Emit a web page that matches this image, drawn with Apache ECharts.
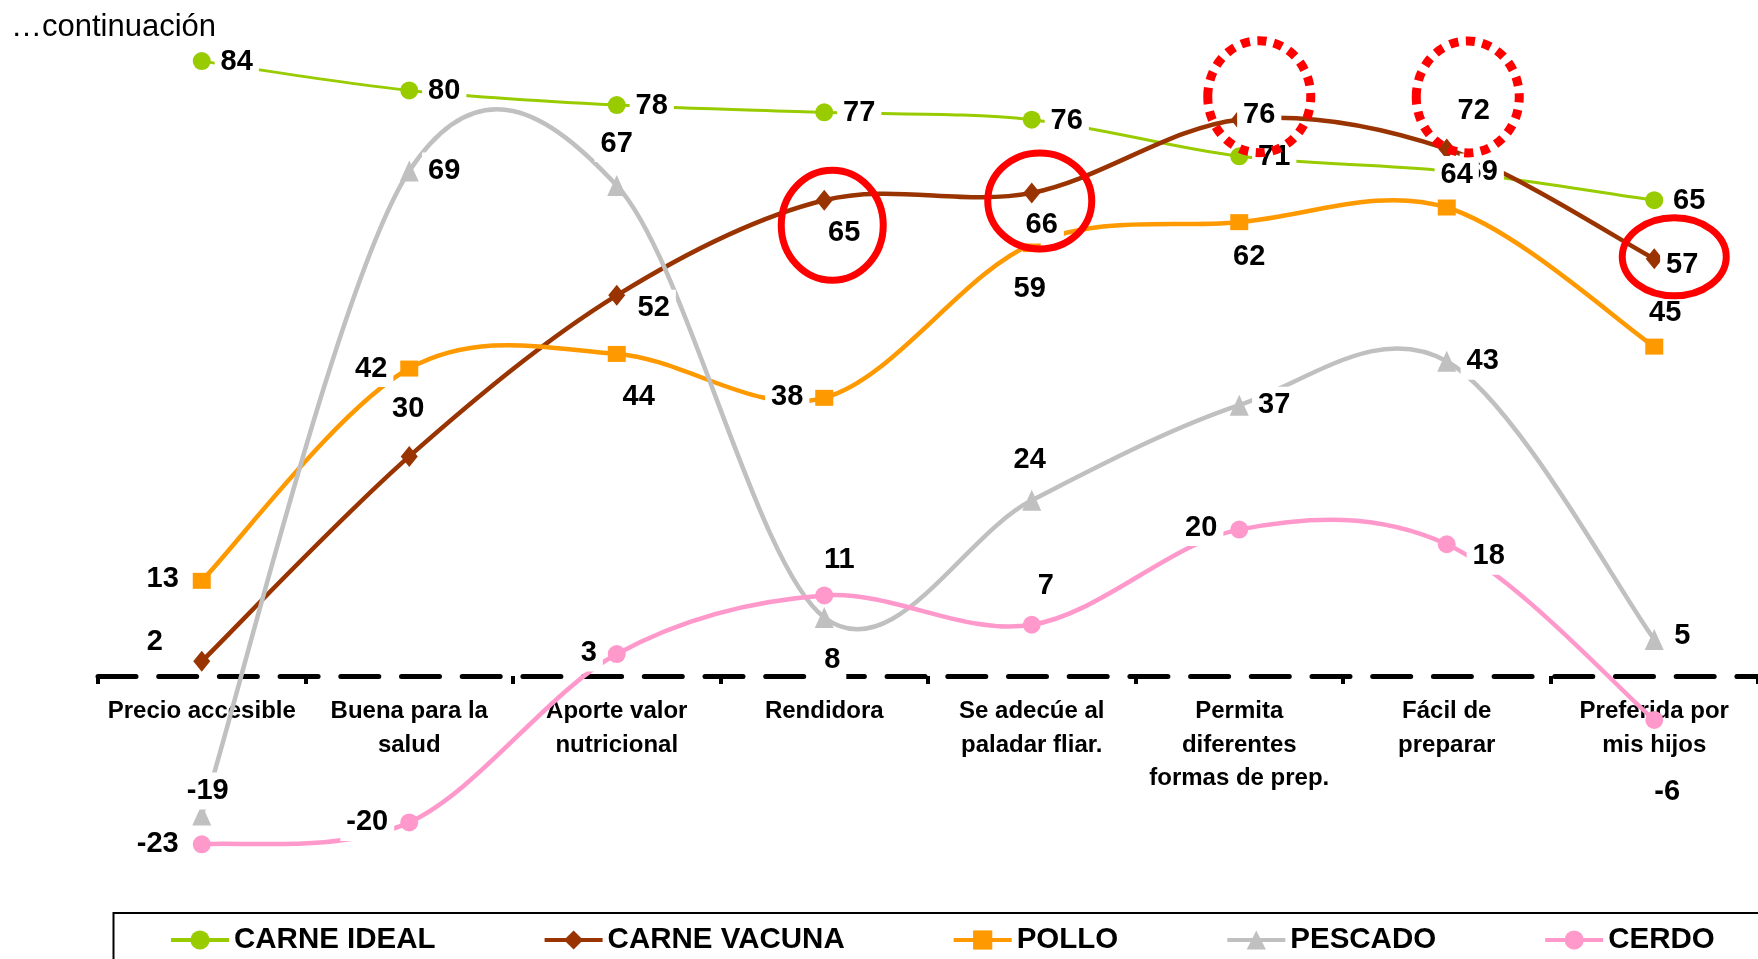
<!DOCTYPE html>
<html>
<head>
<meta charset="utf-8">
<script src="https://cdn.jsdelivr.net/npm/echarts@6/dist/echarts.min.js"></script>
<style>
html,body{margin:0;padding:0;background:#fff;}
#c{width:1758px;height:959px;}
</style>
</head>
<body>
<div id="c"></div>
<script>
// ---------- data ----------
const categories = ['Precio accesible', 'Buena para la\nsalud', 'Aporte valor\nnutricional', 'Rendidora',
  'Se adecúe al\npaladar fliar.', 'Permita\ndiferentes\nformas de prep.', 'Fácil de\npreparar', 'Preferida por\nmis hijos'];
const seriesNames = ['CARNE IDEAL', 'CARNE VACUNA', 'POLLO', 'PESCADO', 'CERDO'];
const carneIdeal  = [84, 80, 78, 77, 76, 71, 69, 65];
const carneVacuna = [2, 30, 52, 65, 66, 76, 72, 57];
const pollo       = [13, 42, 44, 38, 59, 62, 64, 45];
const pescado     = [-19, 69, 67, 8, 24, 37, 43, 5];
const cerdo       = [-23, -20, 3, 11, 7, 20, 18, -6];
const allValues = [carneIdeal, carneVacuna, pollo, pescado, cerdo];

// ---------- label placement (offset of each value label from its marker, px) ----------
const offIdeal   = [[35,1],[35,1],[35,1],[35,1],[35,1],[35,1],[35,1],[35,1]];
const offVacuna  = [[-47,-19],[-1,-47],[37,13],[20,33],[10,32],[20,-5],[27,-38],[28,6]];
const offPollo   = [[-39,-2],[-38,0],[22,43],[-37,-1],[-2,45],[10,35],[10,-33],[11,-34]];
const offPescado = [[6,-24],[35,0],[0,-42],[8,43],[-2,-40],[35,0],[36,0],[28,-3]];
const offCerdo   = [[-44,0],[-42,0],[-28,-1],[15,-35],[14,-39],[-38,-2],[42,12],[13,72]];
const allOffsets = [offIdeal, offVacuna, offPollo, offPescado, offCerdo];

// ---------- styles ----------
const FONT = "'Liberation Sans', Arial, Helvetica, sans-serif";
const styles = [
  {color: '#99CC00', symbol: 'circle',   size: 18,       width: 3},
  {color: '#993300', symbol: 'diamond',  size: [17, 21], width: 4.5},
  {color: '#FF9900', symbol: 'rect',     size: [18, 16], width: 4.5},
  {color: '#C0C0C0', symbol: 'triangle', size: [19, 21], width: 4.5},
  {color: '#FF99CC', symbol: 'circle',   size: 18,       width: 4.5}
];

// red annotation rings around CARNE VACUNA labels
const annotations = [
  {cat: 3, dx: 8,  dy: 25,  rx: 51,   ry: 55, dotted: false},
  {cat: 4, dx: 8,  dy: 8,   rx: 52,   ry: 48, dotted: false},
  {cat: 5, dx: 20, dy: -23, rx: 51.5, ry: 56, dotted: true},
  {cat: 6, dx: 21, dy: -52, rx: 51.5, ry: 56, dotted: true},
  {cat: 7, dx: 20, dy: -2,  rx: 52,   ry: 39, dotted: false}
];

const chart = echarts.init(document.getElementById('c'), null, {renderer: 'canvas', width: 1758, height: 959});

// marker + label series (also provide legend icons)
const lineSeries = allValues.map((vals, k) => ({
  type: 'line',
  name: seriesNames[k],
  data: vals.map((v, i) => ({value: v, label: {offset: allOffsets[k][i]}})),
  symbol: styles[k].symbol,
  symbolSize: styles[k].size,
  showAllSymbol: true,
  clip: false,
  itemStyle: {color: styles[k].color},
  lineStyle: {color: styles[k].color, width: styles[k].width, opacity: 0},
  label: {
    show: true, position: 'inside', align: 'center', verticalAlign: 'middle',
    fontSize: 29, fontWeight: 'bold', color: '#000', fontFamily: FONT,
    backgroundColor: '#fff', padding: [4, 6]
  },
  z: 3,
  silent: true,
  animation: false
}));

// smoothed curves (Catmull-Rom style, like spreadsheet smoothing) through the library's coordinates
const curveSeries = allValues.map((vals, k) => ({
  type: 'custom',
  name: seriesNames[k],
  data: [[0, vals[0]]],
  z: 2,
  clip: false,
  silent: true,
  animation: false,
  renderItem: function (params, api) {
    const pts = vals.map((v, i) => api.coord([i, v]));
    let d = 'M' + pts[0][0] + ',' + pts[0][1];
    for (let i = 0; i < pts.length - 1; i++) {
      const p0 = pts[i - 1] || pts[i];
      const p1 = pts[i];
      const p2 = pts[i + 1];
      const p3 = pts[i + 2] || pts[i + 1];
      const c1x = p1[0] + (p2[0] - p0[0]) / 6, c1y = p1[1] + (p2[1] - p0[1]) / 6;
      const c2x = p2[0] - (p3[0] - p1[0]) / 6, c2y = p2[1] - (p3[1] - p1[1]) / 6;
      d += ' C' + c1x + ',' + c1y + ' ' + c2x + ',' + c2y + ' ' + p2[0] + ',' + p2[1];
    }
    return {
      type: 'path',
      shape: {pathData: d},
      style: {fill: 'none', stroke: styles[k].color, lineWidth: styles[k].width, lineJoin: 'round'}
    };
  }
}));

const option = {
  animation: false,
  backgroundColor: '#fff',
  title: {
    text: '…continuación', left: 11, top: 12, padding: 0,
    textStyle: {fontSize: 31, fontWeight: 'normal', color: '#000', fontFamily: FONT}
  },
  // the grid's bottom edge is the zero line; negative values extend below it
  grid: {left: 98, right: 0, top: 17.2, bottom: 283, containLabel: false, outerBoundsMode: 'none'},
  xAxis: {
    type: 'category',
    data: categories,
    boundaryGap: true,
    axisLine: {show: true, onZero: false, lineStyle: {color: '#000', width: 5, type: [38, 22.7]}},
    axisTick: {show: true, length: 8, lineStyle: {color: '#000', width: 4}},
    axisLabel: {
      interval: 0, margin: 19, color: '#000', fontSize: 24, fontWeight: 'bold',
      fontFamily: FONT, lineHeight: 33.5, align: 'center'
    },
    splitLine: {show: false}
  },
  yAxis: {
    type: 'value', min: 0, max: 90, interval: 30, show: false,
    splitLine: {show: false}
  },
  legend: {
    data: seriesNames,
    left: 169, top: 925, padding: 0, itemGap: 107,
    itemWidth: 58, itemHeight: 24,
    textStyle: {fontSize: 29.5, fontWeight: 'bold', color: '#000', fontFamily: FONT, lineHeight: 24},
    lineStyle: {width: 4, opacity: 1},
    selectedMode: false
  },
  series: lineSeries.concat(curveSeries)
};
chart.setOption(option);

// annotation rings and legend frame
const graphics = [{
  type: 'rect', silent: true, z: 0,
  shape: {x: 113.5, y: 913, width: 1700, height: 120},
  style: {fill: 'none', stroke: '#000', lineWidth: 2}
}];
annotations.forEach(a => {
  const p = chart.convertToPixel({gridIndex: 0}, [a.cat, carneVacuna[a.cat]]);
  graphics.push({
    type: 'ellipse', silent: true, z: 100,
    shape: {cx: p[0] + a.dx, cy: p[1] + a.dy, rx: a.rx, ry: a.ry},
    style: {
      fill: 'none', stroke: '#FF0000',
      lineWidth: a.dotted ? 9 : 7,
      lineDash: a.dotted ? [9, 7.5] : null
    }
  });
});
chart.setOption({graphic: graphics});
</script>
</body>
</html>
